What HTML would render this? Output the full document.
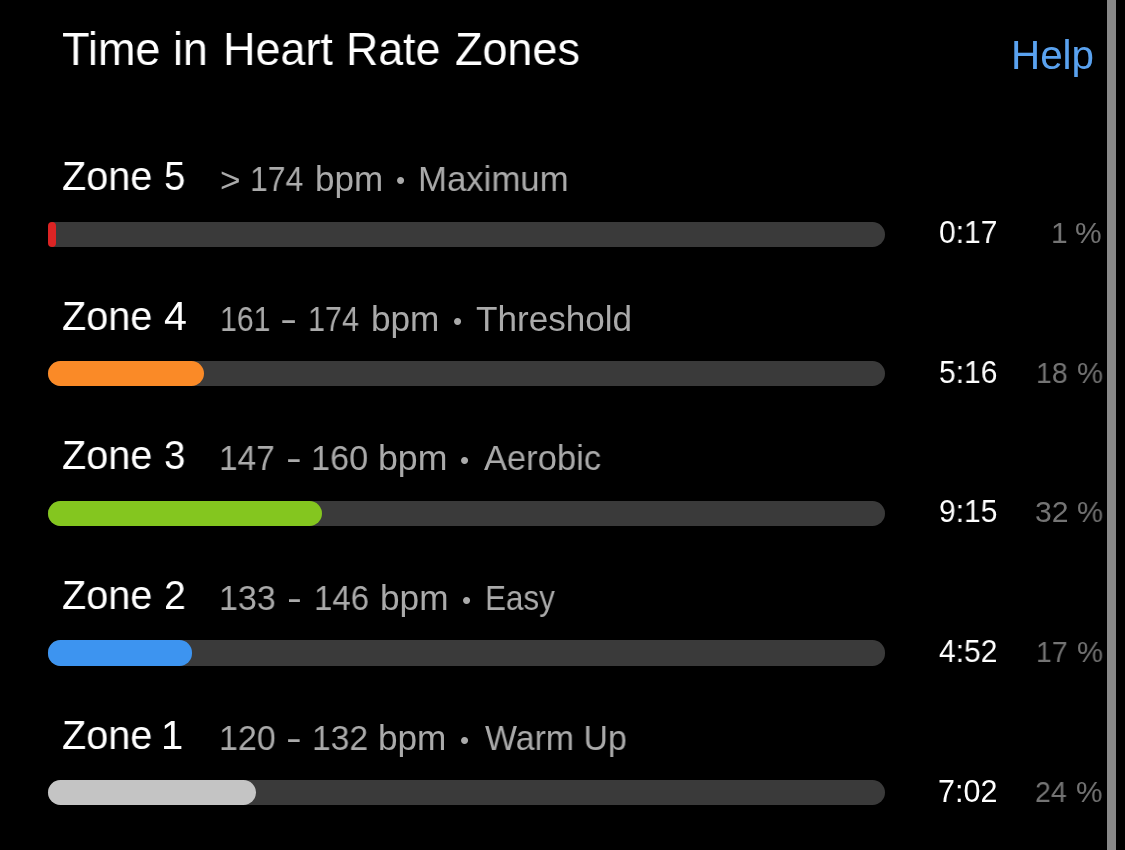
<!DOCTYPE html>
<html><head><meta charset="utf-8"><title>Time in Heart Rate Zones</title>
<style>
html,body{margin:0;padding:0;background:#000;width:1125px;height:850px;overflow:hidden}
body{position:relative;font-family:"Liberation Sans",Arial,sans-serif;color:#fff}
.t{position:absolute;white-space:pre;display:block;transform-origin:0 0;will-change:transform}
.track{position:absolute;left:48px;width:837px;height:25px;border-radius:12.5px;background:#3a3a3a}
.fill{position:absolute;left:48px;height:25px}
#sb{position:absolute;left:1107px;top:0;width:9px;height:850px;background:#888}
</style></head><body>
<span class="t" style="left:61.54px;top:25.20px;font-size:47px;line-height:47px;color:#fff;transform:scaleX(0.9580);">Time</span>
<span class="t" style="left:173.35px;top:25.20px;font-size:47px;line-height:47px;color:#fff;transform:scaleX(0.9484);">in</span>
<span class="t" style="left:222.87px;top:25.20px;font-size:47px;line-height:47px;color:#fff;transform:scaleX(0.9568);">Heart</span>
<span class="t" style="left:346.00px;top:25.20px;font-size:47px;line-height:47px;color:#fff;transform:scaleX(0.9505);">Rate</span>
<span class="t" style="left:454.64px;top:25.20px;font-size:47px;line-height:47px;color:#fff;transform:scaleX(0.9562);">Zones</span>
<span class="t" style="left:1011.17px;top:34.90px;font-size:40px;line-height:40px;color:#5aa2ef;transform:scaleX(1.0090);">Help</span>
<span class="t" style="left:61.71px;top:156.10px;font-size:40px;line-height:40px;color:#fff;transform:scaleX(0.9899);">Zone</span>
<span class="t" style="left:164.17px;top:156.10px;font-size:40px;line-height:40px;color:#fff;transform:scaleX(0.9632);">5</span>
<span class="t" style="left:220.09px;top:161.80px;font-size:35px;line-height:35px;color:#aaaaaa;transform:scaleX(1.0059);">&gt;</span>
<span class="t" style="left:249.57px;top:160.60px;font-size:35px;line-height:35px;color:#aaaaaa;transform:scaleX(0.9109);">174</span>
<span class="t" style="left:314.70px;top:160.60px;font-size:35px;line-height:35px;color:#aaaaaa;">bpm</span>
<span class="t" style="left:396.30px;top:167.30px;font-size:26px;line-height:26px;color:#aaaaaa">•</span>
<span class="t" style="left:418.02px;top:160.60px;font-size:35px;line-height:35px;color:#aaaaaa;transform:scaleX(0.9932);">Maximum</span>
<div class="track" style="top:222.0px;height:25px;left:52.0px;width:833.0px;border-radius:0 12.5px 12.5px 0"></div><div class="fill" style="top:222.0px;height:25px;width:8px;background:#dc2424;border-radius:4px"></div>
<span class="t" style="left:939.02px;top:217.10px;font-size:30.5px;line-height:30.5px;color:#fff;transform:scaleX(0.9825);">0:17</span>
<span class="t" style="left:1050.70px;top:218.10px;font-size:30px;line-height:30px;color:#747474;">1</span>
<span class="t" style="left:1074.90px;top:218.10px;font-size:30px;line-height:30px;color:#747474;transform:scaleX(0.9960);">%</span>
<span class="t" style="left:61.71px;top:296.10px;font-size:40px;line-height:40px;color:#fff;transform:scaleX(0.9899);">Zone</span>
<span class="t" style="left:164.07px;top:296.10px;font-size:40px;line-height:40px;color:#fff;transform:scaleX(1.0300);">4</span>
<span class="t" style="left:219.51px;top:300.80px;font-size:35px;line-height:35px;color:#aaaaaa;transform:scaleX(0.8630);">161</span>
<span class="t" style="left:280.35px;top:300.80px;font-size:35px;line-height:35px;color:#aaaaaa;transform:scaleX(1.4750);">-</span>
<span class="t" style="left:308.09px;top:300.80px;font-size:35px;line-height:35px;color:#aaaaaa;transform:scaleX(0.8709);">174</span>
<span class="t" style="left:371.29px;top:300.80px;font-size:35px;line-height:35px;color:#aaaaaa;transform:scaleX(1.0047);">bpm</span>
<span class="t" style="left:452.70px;top:307.50px;font-size:26px;line-height:26px;color:#aaaaaa">•</span>
<span class="t" style="left:475.70px;top:300.80px;font-size:35px;line-height:35px;color:#aaaaaa;transform:scaleX(1.0033);">Threshold</span>
<div class="track" style="top:361.0px;height:25px"></div><div class="fill" style="top:361.0px;height:25px;width:156px;background:#fa8a27;border-radius:12.5px"></div>
<span class="t" style="left:939.02px;top:357.20px;font-size:30.5px;line-height:30.5px;color:#fff;transform:scaleX(0.9825);">5:16</span>
<span class="t" style="left:1036.11px;top:358.20px;font-size:30px;line-height:30px;color:#747474;transform:scaleX(0.9467);">18</span>
<span class="t" style="left:1076.62px;top:358.20px;font-size:30px;line-height:30px;color:#747474;transform:scaleX(0.9760);">%</span>
<span class="t" style="left:61.71px;top:434.80px;font-size:40px;line-height:40px;color:#fff;transform:scaleX(0.9899);">Zone</span>
<span class="t" style="left:164.17px;top:434.80px;font-size:40px;line-height:40px;color:#fff;transform:scaleX(0.9632);">3</span>
<span class="t" style="left:219.24px;top:439.80px;font-size:35px;line-height:35px;color:#aaaaaa;transform:scaleX(0.9537);">147</span>
<span class="t" style="left:285.50px;top:439.80px;font-size:35px;line-height:35px;color:#aaaaaa;transform:scaleX(1.3500);">-</span>
<span class="t" style="left:310.67px;top:439.80px;font-size:35px;line-height:35px;color:#aaaaaa;transform:scaleX(0.9778);">160</span>
<span class="t" style="left:378.06px;top:439.80px;font-size:35px;line-height:35px;color:#aaaaaa;transform:scaleX(1.0203);">bpm</span>
<span class="t" style="left:460.10px;top:446.50px;font-size:26px;line-height:26px;color:#aaaaaa">•</span>
<span class="t" style="left:483.60px;top:439.80px;font-size:35px;line-height:35px;color:#aaaaaa;transform:scaleX(0.9856);">Aerobic</span>
<div class="track" style="top:501.0px;height:25px"></div><div class="fill" style="top:501.0px;height:25px;width:274px;background:#84c61f;border-radius:12.5px"></div>
<span class="t" style="left:939.02px;top:496.30px;font-size:30.5px;line-height:30.5px;color:#fff;transform:scaleX(0.9825);">9:15</span>
<span class="t" style="left:1034.99px;top:497.30px;font-size:30px;line-height:30px;color:#747474;transform:scaleX(1.0065);">32</span>
<span class="t" style="left:1076.62px;top:497.30px;font-size:30px;line-height:30px;color:#747474;transform:scaleX(0.9760);">%</span>
<span class="t" style="left:61.71px;top:574.80px;font-size:40px;line-height:40px;color:#fff;transform:scaleX(0.9899);">Zone</span>
<span class="t" style="left:164.13px;top:574.80px;font-size:40px;line-height:40px;color:#fff;transform:scaleX(0.9833);">2</span>
<span class="t" style="left:219.19px;top:579.80px;font-size:35px;line-height:35px;color:#aaaaaa;transform:scaleX(0.9704);">133</span>
<span class="t" style="left:287.25px;top:579.80px;font-size:35px;line-height:35px;color:#aaaaaa;transform:scaleX(1.2750);">-</span>
<span class="t" style="left:313.78px;top:579.80px;font-size:35px;line-height:35px;color:#aaaaaa;transform:scaleX(0.9407);">146</span>
<span class="t" style="left:379.99px;top:579.80px;font-size:35px;line-height:35px;color:#aaaaaa;transform:scaleX(1.0062);">bpm</span>
<span class="t" style="left:461.80px;top:586.50px;font-size:26px;line-height:26px;color:#aaaaaa">•</span>
<span class="t" style="left:484.80px;top:579.80px;font-size:35px;line-height:35px;color:#aaaaaa;transform:scaleX(0.8987);">Easy</span>
<div class="track" style="top:640.0px;height:26px"></div><div class="fill" style="top:640.0px;height:26px;width:144px;background:#3d94f0;border-radius:12.5px"></div>
<span class="t" style="left:939.02px;top:636.10px;font-size:30.5px;line-height:30.5px;color:#fff;transform:scaleX(0.9825);">4:52</span>
<span class="t" style="left:1036.11px;top:637.10px;font-size:30px;line-height:30px;color:#747474;transform:scaleX(0.9467);">17</span>
<span class="t" style="left:1076.62px;top:637.10px;font-size:30px;line-height:30px;color:#747474;transform:scaleX(0.9760);">%</span>
<span class="t" style="left:61.71px;top:714.80px;font-size:40px;line-height:40px;color:#fff;transform:scaleX(0.9899);">Zone</span>
<span class="t" style="left:161.00px;top:714.80px;font-size:40px;line-height:40px;color:#fff;">1</span>
<span class="t" style="left:219.19px;top:719.80px;font-size:35px;line-height:35px;color:#aaaaaa;transform:scaleX(0.9704);">120</span>
<span class="t" style="left:285.50px;top:719.80px;font-size:35px;line-height:35px;color:#aaaaaa;transform:scaleX(1.3500);">-</span>
<span class="t" style="left:311.72px;top:719.80px;font-size:35px;line-height:35px;color:#aaaaaa;transform:scaleX(0.9593);">132</span>
<span class="t" style="left:378.09px;top:719.80px;font-size:35px;line-height:35px;color:#aaaaaa;transform:scaleX(1.0047);">bpm</span>
<span class="t" style="left:460.10px;top:726.50px;font-size:26px;line-height:26px;color:#aaaaaa">•</span>
<span class="t" style="left:484.50px;top:719.80px;font-size:35px;line-height:35px;color:#aaaaaa;transform:scaleX(0.9683);">Warm Up</span>
<div class="track" style="top:780.0px;height:25px"></div><div class="fill" style="top:780.0px;height:25px;width:208px;background:#c4c4c4;border-radius:12.5px"></div>
<span class="t" style="left:938.00px;top:776.00px;font-size:30.5px;line-height:30.5px;color:#fff;">7:02</span>
<span class="t" style="left:1035.45px;top:777.00px;font-size:30px;line-height:30px;color:#747474;transform:scaleX(0.9500);">24</span>
<span class="t" style="left:1076.21px;top:777.00px;font-size:30px;line-height:30px;color:#747474;transform:scaleX(0.9920);">%</span>
<div id="sb"></div>
</body></html>
